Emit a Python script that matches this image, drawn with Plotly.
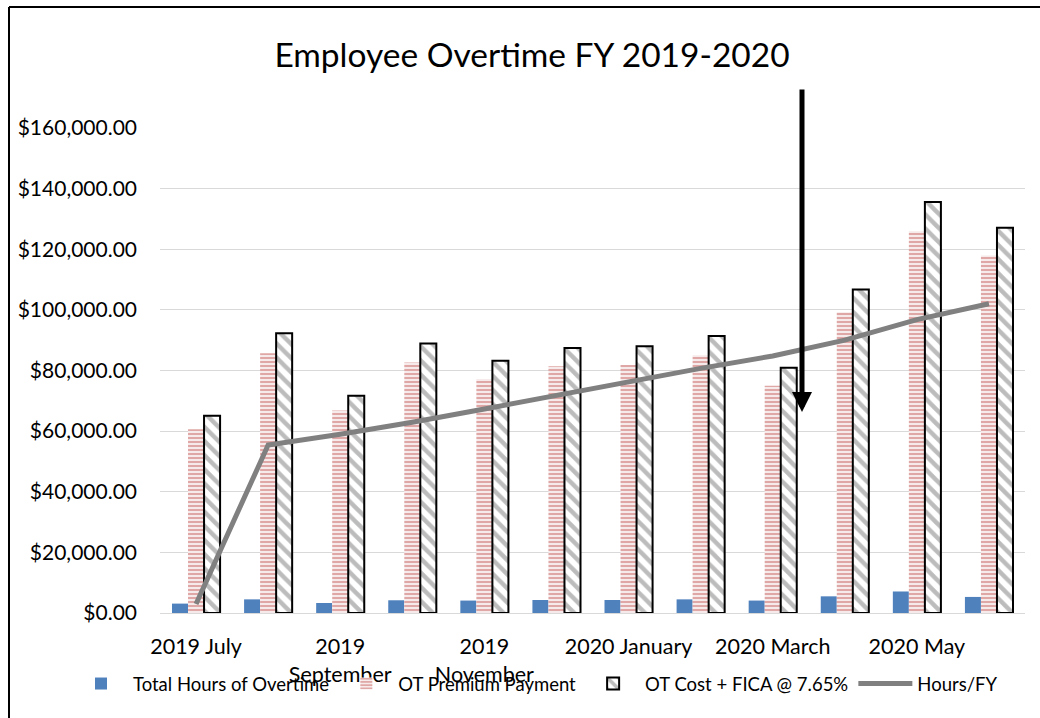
import plotly.graph_objects as go

months = ["2019 July", "2019 August", "2019 September", "2019 October",
          "2019 November", "2019 December", "2020 January", "2020 February",
          "2020 March", "2020 April", "2020 May", "2020 June"]
hours_overtime = [3100, 4500, 3300, 4200, 4100, 4300, 4300, 4500, 4100, 5500, 7100, 5300]
ot_premium = [60600, 85700, 66800, 82600, 77200, 81400, 81800, 85000, 75000, 99200, 125900, 117900]
ot_cost_fica = [65100, 92300, 71700, 88900, 83200, 87400, 88000, 91400, 80900, 106700, 135600, 127100]
hours_fy = [3000, 55400, 59000, 62900, 67300, 71800, 76200, 80700, 84800, 90000, 96800, 102000]

tick_vals = ["2019 July", "2019 September", "2019 November", "2020 January", "2020 March", "2020 May"]
tick_text = ["2019 July", "2019<br>September", "2019<br>November", "2020 January", "2020 March", "2020 May"]

FONT = "Lato"

fig = go.Figure()
fig.add_trace(go.Bar(
    x=months, y=hours_overtime, name="Total Hours of Overtime",
    marker=dict(color="#4F81BD", line=dict(width=0)),
))
fig.add_trace(go.Bar(
    x=months, y=ot_premium, name="OT Premium Payment",
    marker=dict(color="white", line=dict(width=0),
                pattern=dict(shape="-", fgcolor="#C0504D", bgcolor="white",
                             size=4, solidity=0.62)),
))
fig.add_trace(go.Bar(
    x=months, y=ot_cost_fica, name="OT Cost + FICA @ 7.65%",
    marker=dict(color="white", line=dict(width=2, color="black"),
                pattern=dict(shape="\\", fgcolor="#7A7A7A", bgcolor="white",
                             size=10, solidity=0.45)),
))
fig.add_trace(go.Scatter(
    x=months, y=hours_fy, name="Hours/FY", mode="lines",
    line=dict(color="#808080", width=5),
))

# arrow annotation
fig.add_annotation(
    xref="paper", yref="y", x=(802 - 160) / 865, y=66300,
    ax=0, ay=-324, axref="pixel", ayref="pixel",
    text="", showarrow=True, arrowhead=2, arrowsize=0.8, arrowwidth=5,
    arrowcolor="black",
)

# chart border (top and left)
bx = (9 - 160) / 865
fig.add_shape(type="line", xref="paper", yref="paper",
              x0=bx, x1=(1040 - 160) / 865, y0=(613 - 7) / 485, y1=(613 - 7) / 485,
              line=dict(color="black", width=2))
fig.add_shape(type="line", xref="paper", yref="paper",
              x0=bx, x1=bx, y0=(613 - 718) / 485, y1=(613 - 7) / 485,
              line=dict(color="black", width=2))

fig.update_layout(
    width=1040, height=718,
    margin=dict(l=160, r=15, t=128, b=105, autoexpand=False),
    paper_bgcolor="white", plot_bgcolor="white",
    font=dict(family=FONT, color="black"),
    title=dict(text="Employee Overtime FY 2019-2020", x=532 / 1040, xanchor="center",
               y=1 - 55 / 718, yanchor="middle", font=dict(size=33.5, family=FONT, color="black")),
    barmode="group", bargap=0.333, bargroupgap=0,
    showlegend=True,
    legend=dict(orientation="h", xref="paper", x=(69 - 160) / 865, xanchor="left",
                yref="paper", y=(613 - 684) / 485, yanchor="middle",
                font=dict(size=18.5, family=FONT, color="black"),
                bgcolor="rgba(0,0,0,0)", itemwidth=54, traceorder="normal"),
)
fig.update_xaxes(
    type="category", categoryorder="array", categoryarray=months,
    tickmode="array", tickvals=tick_vals, ticktext=tick_text,
    tickfont=dict(size=21.5, family=FONT, color="black"),
    showline=True, linecolor="#D9D9D9", linewidth=1, showgrid=False,
    ticks="", ticklabelstandoff=14, automargin=False,
)
fig.update_yaxes(
    range=[0, 160000], dtick=20000, tickformat="$,.2f",
    tickfont=dict(size=21, family=FONT, color="black"),
    showgrid=True, gridcolor="#D9D9D9", gridwidth=1,
    zeroline=False, showline=False, ticks="", ticklabelstandoff=22, automargin=False,
)

fig.write_html("out.html")
